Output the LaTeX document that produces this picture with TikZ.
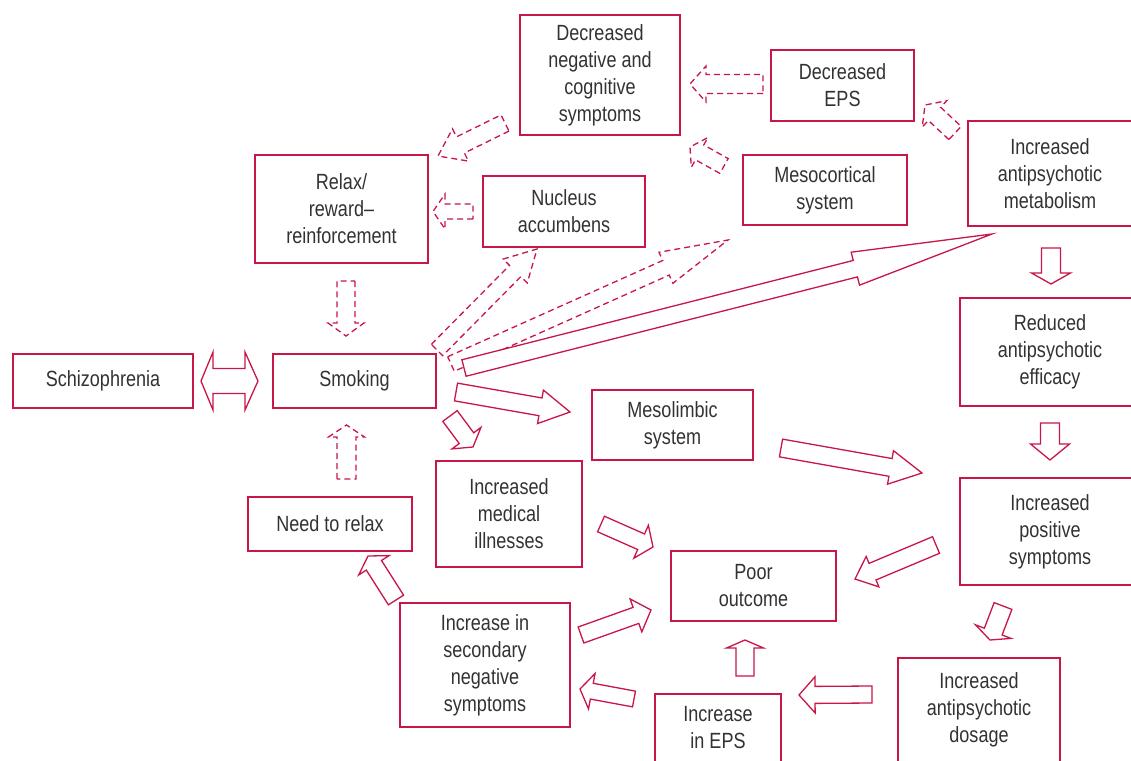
\documentclass[tikz,border=0pt]{standalone}
\usepackage{fontspec}
\setmainfont[FakeStretch=0.82]{Liberation Sans}
\usetikzlibrary{calc}
\definecolor{crim}{RGB}{200,22,72}
\definecolor{txt}{RGB}{50,50,50}
% block arrow: [opts]{tail}{tip}{shaft half width}{head half width}{head length}
\newcommand\barr[6][]{\draw[arr,#1] ($#2!#4pt!90:#3$) -- ($#3!#6pt!#2!#4pt!90:#3$) -- ($#3!#6pt!#2!#5pt!90:#3$) -- #3 -- ($#3!#6pt!#2!#5pt!-90:#3$) -- ($#3!#6pt!#2!#4pt!-90:#3$) -- ($#2!#4pt!-90:#3$) -- cycle;}
\begin{document}
\begin{tikzpicture}[x=1pt,y=-1pt,
  box/.style={draw=crim, line width=1.4pt, rectangle, inner sep=0pt, align=center,
    text=txt, font=\fontsize{22}{27}\selectfont},
  arr/.style={draw=crim, line width=1.3pt, line join=miter, fill=white},
  dsh/.style={dash pattern=on 6pt off 4pt}]
\useasboundingbox (0,0) rectangle (1131,760);
\clip (0,0) rectangle (1131,760);
% boxes
\node[box, minimum width=160, minimum height=120] (decneg) at (600,75) {Decreased\\negative and\\cognitive\\symptoms};
\node[box, minimum width=143, minimum height=71] (deceps) at (842.5,85.5) {Decreased\\EPS};
\node[box, minimum width=164, minimum height=70] (meso) at (825,190) {Mesocortical\\system};
\node[box, minimum width=164, minimum height=105] (metab) at (1050,173.5) {Increased\\antipsychotic\\metabolism};
\node[box, minimum width=173, minimum height=108] (relax) at (341.5,209) {Relax/\\reward--\\reinforcement};
\node[box, minimum width=162, minimum height=71] (nucleus) at (564,211.5) {Nucleus\\accumbens};
\node[box, minimum width=180, minimum height=54] (schizo) at (103,381) {Schizophrenia};
\node[box, minimum width=163, minimum height=54] (smoking) at (354.5,381) {Smoking};
\node[box, minimum width=161, minimum height=70] (limbic) at (672.5,425) {Mesolimbic\\system};
\node[box, minimum width=180, minimum height=108] (reduced) at (1050,352) {Reduced\\antipsychotic\\efficacy};
\node[box, minimum width=146, minimum height=106] (medical) at (509,514) {Increased\\medical\\illnesses};
\node[box, minimum width=164, minimum height=54] (needrelax) at (330,524) {Need to relax};
\node[box, minimum width=165, minimum height=70] (poor) at (753.5,586) {Poor\\outcome};
\node[box, minimum width=180, minimum height=107] (positive) at (1050,531.5) {Increased\\positive\\symptoms};
\node[box, minimum width=170, minimum height=124] (secondary) at (485,665) {Increase in\\secondary\\negative\\symptoms};
\node[box, minimum width=126, minimum height=68] (inceps) at (718,728) {Increase\\in EPS};
\node[box, minimum width=162, minimum height=104] (dosage) at (979,710) {Increased\\antipsychotic\\dosage};
% dashed arrows
\barr[dsh]{(763,84)}{(690,84)}{9.5}{18}{16}
\barr[dsh]{(955,133)}{(925,105)}{9}{18}{13}
\barr[dsh]{(724,166)}{(690,147)}{8.5}{17}{11}
\barr[dsh]{(505,123)}{(438,156)}{9}{18}{25}
\barr[dsh]{(473,211.5)}{(433,211.5)}{7.5}{17.5}{12}
\barr[dsh]{(346,281)}{(346,336)}{9}{18}{13}
\barr[dsh]{(437,350)}{(537,249)}{8}{17}{31}
\barr[dsh]{(451,364)}{(728,240)}{8}{17}{68}
\barr[dsh]{(346.5,479)}{(346.5,425)}{9.5}{18}{12}
% solid arrows
\barr{(464,368)}{(992,234)}{8.5}{17}{141}
\barr{(456,392)}{(570,412)}{9}{17}{30}
\barr{(450,416)}{(473,447)}{9}{18}{11}
\barr{(781,448)}{(922,473)}{9}{17}{32}
\barr{(1051,248)}{(1051,284)}{9.5}{19.5}{11}
\barr{(1050,423)}{(1050,460)}{9.5}{19.5}{16}
\barr{(936,545)}{(855,579)}{9}{16.5}{19}
\barr{(1003,606)}{(990,640)}{9.5}{19}{9}
\barr{(872,694.5)}{(799,695)}{8.5}{18}{16}
\barr{(745,676)}{(745,640)}{9}{18.5}{8}
\barr{(634,699)}{(580,689)}{8}{18}{12}
\barr{(581,635)}{(651,610)}{8.5}{17.5}{16}
\barr{(601,524)}{(653,547)}{8.5}{18}{13}
\barr{(396,600)}{(368,556)}{9}{18}{11}
% double arrow Schizophrenia <-> Smoking
\draw[arr] (201,381) -- (213,352) -- (213,368.5) -- (245,368.5) -- (245,352) -- (258,381)
  -- (245,410) -- (245,393.5) -- (213,393.5) -- (213,410) -- cycle;
\end{tikzpicture}
\end{document}
